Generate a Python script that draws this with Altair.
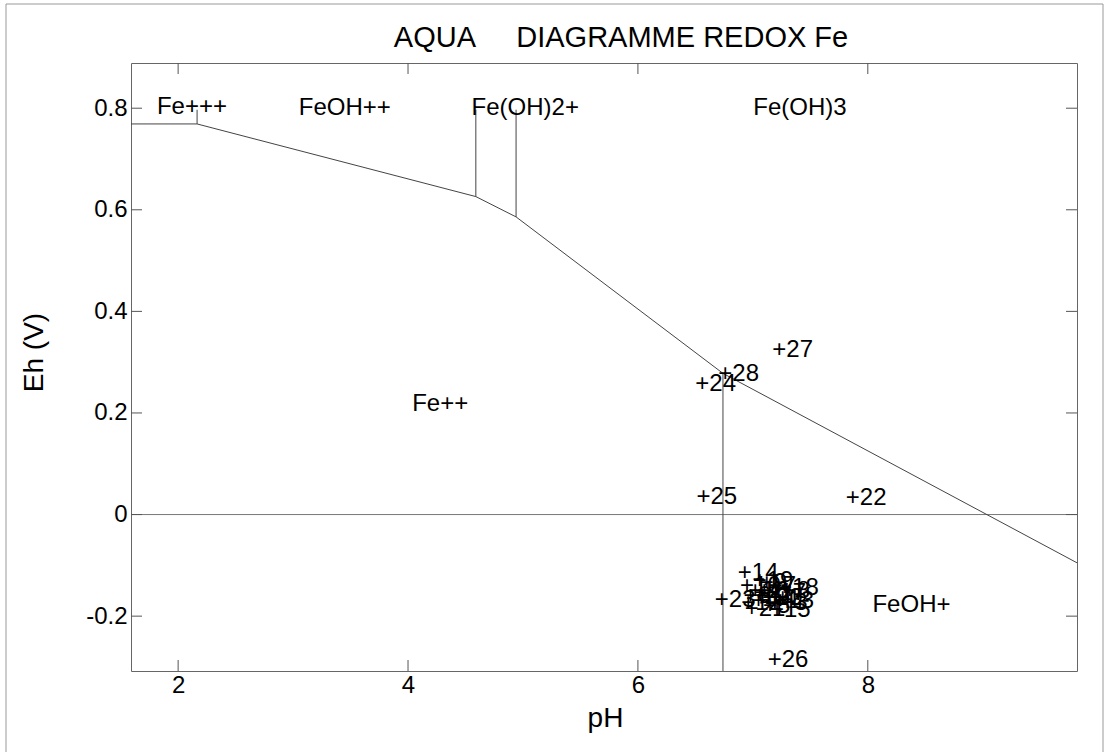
import altair as alt
import pandas as pd

FONT = "Liberation Sans"
W, H = 946, 608

# Axis ranges and tick positions
ph_range = [1.59, 9.82]
eh_range = [-0.308, 0.889]
ph_ticks = [2, 4, 6, 8]
eh_ticks = [-0.2, 0.0, 0.2, 0.4, 0.6, 0.8]

# Stability-field boundaries, one straight segment per entry
seg_ph_start = [1.59, 2.165, 2.165, 4.59, 4.59, 4.94, 4.94, 6.74, 6.74]
seg_eh_start = [0.769, 0.769, 0.769, 0.626, 0.626, 0.586, 0.586, 0.278, 0.278]
seg_ph_end = [2.165, 2.165, 4.59, 4.59, 4.94, 4.94, 6.74, 9.82, 6.74]
seg_eh_end = [0.769, 0.797, 0.626, 0.797, 0.586, 0.797, 0.278, -0.095, -0.308]

# Reference level Eh = 0
zero_eh = [0.0]

# Dominant species in each field
species = ["Fe+++", "FeOH++", "Fe(OH)2+", "Fe(OH)3", "Fe++", "FeOH+"]
species_ph = [2.12, 3.45, 5.02, 7.41, 4.28, 8.38]
species_eh = [0.802, 0.800, 0.800, 0.800, 0.217, -0.178]

# Water samples (pH, Eh)
sample_ids = [27, 28, 24, 25, 22, 26, 14, 15, 23,
              1, 2, 3, 4, 5, 6, 7, 8, 9, 10, 11, 12, 13, 16, 17, 18, 19, 20, 21]
sample_ph = [7.23, 6.76, 6.56, 6.57, 7.87, 7.19, 6.93, 7.21, 6.73,
             7.10, 7.26, 7.30, 7.05, 7.15, 6.98, 7.20, 7.32, 7.12, 6.95,
             7.08, 6.96, 7.24, 7.02, 7.17, 7.28, 7.06, 7.14, 6.99]
sample_eh = [0.324, 0.276, 0.257, 0.034, 0.032, -0.287, -0.115, -0.188, -0.169,
             -0.150, -0.165, -0.175, -0.170, -0.180, -0.160, -0.140, -0.150,
             -0.135, -0.140, -0.160, -0.175, -0.170, -0.150, -0.155, -0.145,
             -0.130, -0.165, -0.185]

title_text = "AQUA\u00a0\u00a0\u00a0\u00a0\u00a0DIAGRAMME REDOX Fe"

segments = pd.DataFrame({"ph": seg_ph_start, "eh": seg_eh_start,
                         "ph2": seg_ph_end, "eh2": seg_eh_end})
zero_line = pd.DataFrame({"eh": zero_eh})
labels = pd.DataFrame({"ph": species_ph, "eh": species_eh, "name": species})
samples = pd.DataFrame({"ph": sample_ph, "eh": sample_eh,
                        "tag": ["+" + str(i) for i in sample_ids]})
xticks = pd.DataFrame({"ph": ph_ticks})
yticks = pd.DataFrame({"eh": eh_ticks})
single = pd.DataFrame({"t": [title_text]})

xscale = alt.Scale(domain=ph_range, nice=False, zero=False)
yscale = alt.Scale(domain=eh_range, nice=False, zero=False)

axis_style = dict(
    labelFont=FONT, labelFontSize=24, labelColor="black",
    titleFont=FONT, titleFontSize=28, titleFontWeight="normal", titleColor="black",
    ticks=False, domain=False, grid=False,
)
x_axis = alt.Axis(values=ph_ticks, title="pH", labelPadding=2,
                  titleX=474, titleY=47, titleBaseline="middle", **axis_style)
y_axis = alt.Axis(values=eh_ticks, title="Eh (V)", labelPadding=4,
                  labelExpr="datum.value == 0 ? '0' : replace(format(datum.value, '.1f'), '\u2212', '-')",
                  titleX=-97, titleY=289, titleAngle=270,
                  titleBaseline="middle", titleAlign="center", **axis_style)

X = alt.X("ph:Q", scale=xscale, axis=x_axis)
Y = alt.Y("eh:Q", scale=yscale, axis=y_axis)

boundaries = alt.Chart(segments).mark_rule(
    color="#444", strokeWidth=1, clip=True
).encode(x=X, y=Y, x2="ph2:Q", y2="eh2:Q")

zero_rule = alt.Chart(zero_line).mark_rule(
    color="#777", strokeWidth=1
).encode(y=Y, x=alt.value(0), x2=alt.value(W))

tick_style = dict(color="#555", strokeWidth=1)
x_ticks_bottom = alt.Chart(xticks).mark_rule(**tick_style).encode(
    x=X, y=alt.value(H), y2=alt.value(H - 11))
x_ticks_top = alt.Chart(xticks).mark_rule(**tick_style).encode(
    x=X, y=alt.value(0), y2=alt.value(11))
y_ticks_left = alt.Chart(yticks).mark_rule(**tick_style).encode(
    y=Y, x=alt.value(0), x2=alt.value(11))
y_ticks_right = alt.Chart(yticks).mark_rule(**tick_style).encode(
    y=Y, x=alt.value(W), x2=alt.value(W - 11))

species_text = alt.Chart(labels).mark_text(
    font=FONT, fontSize=24, color="black", align="center", baseline="middle"
).encode(x=X, y=Y, text="name:N")

sample_text = alt.Chart(samples).mark_text(
    font=FONT, fontSize=24, color="black", align="left", baseline="middle", dx=-7
).encode(x=X, y=Y, text="tag:N")

# heading above the plot area
heading = alt.Chart(single).mark_text(
    font=FONT, fontSize=29, color="black", align="center", baseline="middle"
).encode(x=alt.value(490), y=alt.value(-25), text="t:N")

# thin border around the whole figure
border = alt.Chart(single).mark_rect(
    filled=False, stroke="#999", strokeWidth=1, clip=False
).encode(
    x=alt.value(-125), x2=alt.value(972),
    y=alt.value(-59), y2=alt.value(720),
)

chart = alt.layer(
    border, zero_rule, boundaries, x_ticks_bottom, x_ticks_top, y_ticks_left,
    y_ticks_right, species_text, sample_text, heading,
).properties(
    width=W,
    height=H,
    background="white",
    autosize=alt.AutoSizeParams(type="none"),
    padding={"left": 131, "top": 63, "right": 30, "bottom": 81},
).configure_view(
    stroke="#666", strokeWidth=1
)

chart.save("out.html", embed_options={"renderer": "svg", "actions": False})
